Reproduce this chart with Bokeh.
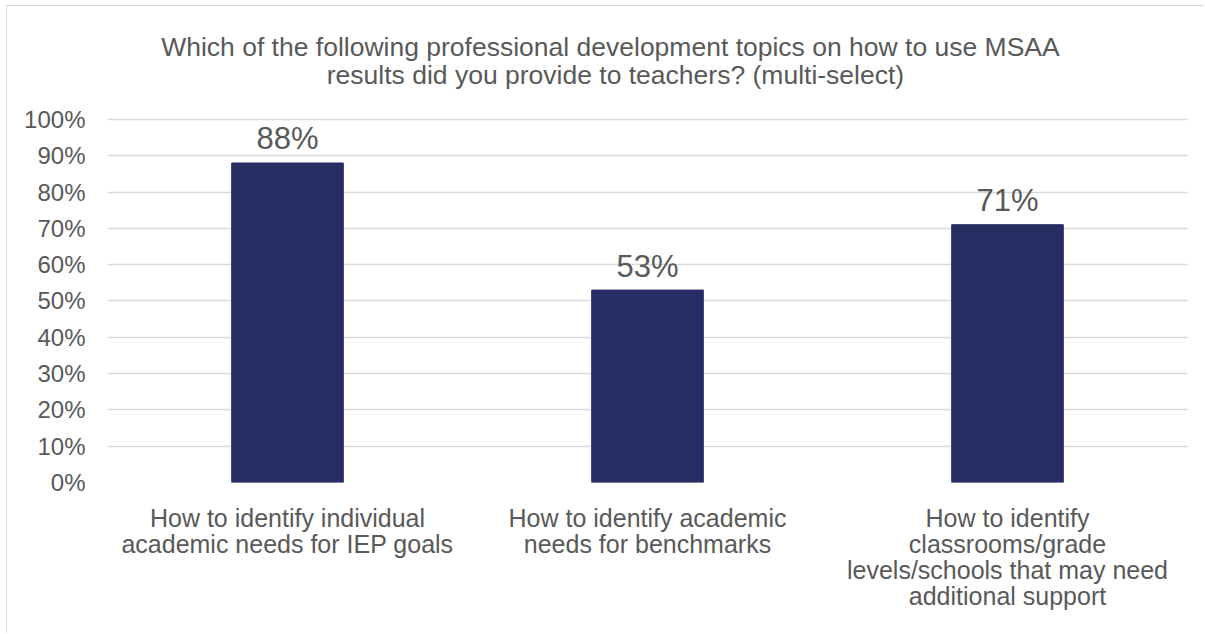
from bokeh.plotting import figure
from bokeh.models import ColumnDataSource, NumeralTickFormatter, FixedTicker, Range1d
from bokeh.embed import file_html
from bokeh.resources import INLINE
from bokeh.core.properties import value

categories = [
    "How to identify individual\nacademic needs for IEP goals",
    "How to identify academic\nneeds for benchmarks",
    "How to identify\nclassrooms/grade\nlevels/schools that may need\nadditional support",
]
values = [88, 53, 71]
title_lines = [
    "Which of the following professional development topics on how to use MSAA",
    "results did you provide to teachers? (multi-select)",
]
y_ticks = [0, 10, 20, 30, 40, 50, 60, 70, 80, 90, 100]

FONT = "Liberation Sans"
GREY = "#595959"

xpos = [i + 0.5 for i in range(len(categories))]
src = ColumnDataSource(dict(
    x=xpos,
    frac=[v / 100 for v in values],
    lbl=[f"{v}%" for v in values],
))

# plot area extends above 100% to hold the two-line title (no grid there)
Y_TOP = 1.3
W, H = 1198, 628
p = figure(
    x_range=Range1d(0, len(categories)), y_range=Range1d(0, Y_TOP),
    width=W, height=H,
    output_backend="svg", toolbar_location=None,
    min_border_left=100, min_border_right=W - 1180, min_border_top=4, min_border_bottom=H - 476,
)
p.styles = {"margin-left": "6px", "margin-top": "5px",
            "border-left": "1px solid #d9d9d9", "border-top": "1px solid #d9d9d9"}
p.outline_line_color = None
p.background_fill_color = "white"
p.border_fill_color = "white"

p.vbar(x="x", top="frac", width=0.31, source=src, color="#262D63")
p.text(x="x", y="frac", text="lbl", source=src, text_align="center",
       text_baseline="alphabetic", y_offset=-24, text_font_size="31px",
       text_color=GREY, text_font=value(FONT))

# title
tsrc = ColumnDataSource(dict(x=[1.397, 1.411], y=[1.199, 1.123], t=title_lines))
p.text(x="x", y="y", text="t", source=tsrc, text_align="center",
       text_baseline="alphabetic", text_font_size="26.5px",
       text_color=GREY, text_font=value(FONT))

# axes
p.yaxis.ticker = FixedTicker(ticks=[t / 100 for t in y_ticks])
p.yaxis.formatter = NumeralTickFormatter(format="0%")
p.yaxis.axis_line_color = None
p.yaxis.major_tick_line_color = None
p.yaxis.minor_tick_line_color = None
p.yaxis.major_label_text_font_size = "24px"
p.yaxis.major_label_text_color = GREY
p.yaxis.major_label_text_font = FONT
p.yaxis.major_label_standoff = 16

p.xaxis.ticker = FixedTicker(ticks=xpos)
p.xaxis.major_label_overrides = {x: c for x, c in zip(xpos, categories)}
p.xaxis.axis_line_color = None
p.xaxis.major_tick_line_color = None
p.xaxis.minor_tick_line_color = None
p.xaxis.major_label_text_font_size = "25px"
p.xaxis.major_label_text_color = GREY
p.xaxis.major_label_text_font = FONT
p.xaxis.major_label_text_line_height = 0.93
p.xaxis.major_label_standoff = 15

p.xgrid.grid_line_color = None
p.ygrid.grid_line_color = "#d9d9d9"
p.ygrid.grid_line_width = 1.3

open("out.html", "w").write(file_html(p, INLINE))
